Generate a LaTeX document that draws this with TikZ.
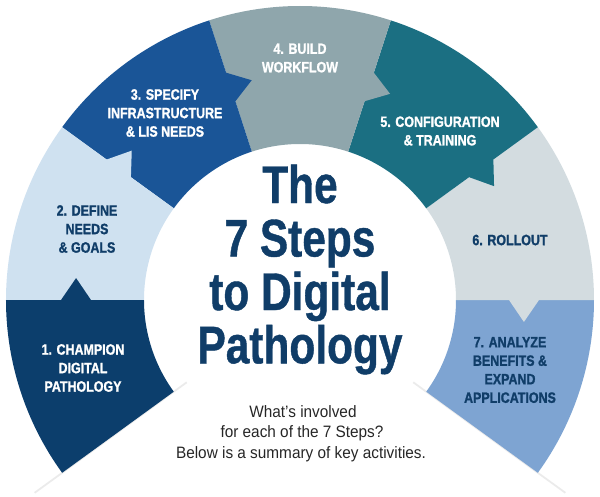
\documentclass[tikz,border=0pt]{standalone}
\usepackage{fontspec}
\setmainfont{Liberation Sans}
\newfontfamily\labelfont[FakeStretch=0.83, FakeBold=1.2]{Liberation Sans}
\newfontfamily\titlefont[FakeStretch=0.8, FakeBold=0.8]{Liberation Sans}
\newfontfamily\subfont[FakeStretch=0.93]{Liberation Sans}

\definecolor{champion}{RGB}{12,62,108}
\definecolor{define}{RGB}{207,225,240}
\definecolor{specify}{RGB}{26,85,151}
\definecolor{build}{RGB}{143,166,172}
\definecolor{config}{RGB}{27,111,130}
\definecolor{rollout}{RGB}{211,220,224}
\definecolor{analyze}{RGB}{126,164,210}
\definecolor{titleblue}{RGB}{16,61,104}

\tikzset{
  steplabel/.style={align=center, font=\labelfont\bfseries\fontsize{15}{18.5}\selectfont},
  titleline/.style={anchor=base, text=titleblue, font=\titlefont\bfseries\fontsize{53}{53}\selectfont},
  subline/.style={anchor=base, text=black!85, font=\subfont\fontsize{16.5}{20}\selectfont},
}

\begin{document}
\begin{tikzpicture}[x=1pt,y=1pt]

    \useasboundingbox (-300,-196) rectangle (300,300);

    % faint shadows at both ends of the ring
    \draw[black!8, line width=1.8pt] (216:140pt) -- (216:328pt);
    \draw[black!8, line width=1.8pt] (-36:140pt) -- (-36:328pt);

    % ring parts, last one first so each arrow lies on the next part
    \foreach \a/\col/\tip in {0/analyze/0, 36/rollout/5.6, 72/config/5.6, 108/build/5.6,
                               144/specify/5.6, 180/define/5.6, 216/champion/5.6} {
        \fill[\col] (\a:294pt) arc[start angle=\a, end angle=\a-36, radius=294pt]
            -- ({\a-36}:239pt) -- ({\a-36-\tip}:225pt) -- ({\a-36}:209pt)
            -- ({\a-36}:156pt) arc[start angle=\a-36, end angle=\a, radius=156pt] -- cycle;
    }

    \node[steplabel, text=white] (s1) at (-217,-68) {1. CHAMPION\\DIGITAL\\PATHOLOGY};
    \node[steplabel, text=titleblue] (s2) at (-213,71) {2. DEFINE\\NEEDS\\\& GOALS};
    \node[steplabel, text=white] (s3) at (-135,187) {3. SPECIFY\\INFRASTRUCTURE\\\& LIS NEEDS};
    \node[steplabel, text=white] (s4) at (0,242) {4. BUILD\\WORKFLOW};
    \node[steplabel, text=white] (s5) at (140,169) {5. CONFIGURATION\\\& TRAINING};
    \node[steplabel, text=titleblue] (s6) at (210,60) {6. ROLLOUT};
    \node[steplabel, text=titleblue] (s7) at (210,-70) {7. ANALYZE\\BENEFITS \&\\EXPAND\\APPLICATIONS};

    \node[titleline] (title1) at (0,97) {The};
    \node[titleline] (title2) at (0,43.5) {7 Steps};
    \node[titleline] (title3) at (0,-10) {to Digital};
    \node[titleline] (title4) at (0,-63.3) {Pathology};

    \node[subline] (sub1) at (3,-117) {What’s involved};
    \node[subline] (sub2) at (2,-137.5) {for each of the 7 Steps?};
    \node[subline] (sub3) at (1,-158) {Below is a summary of key activities.};

\end{tikzpicture}
\end{document}
